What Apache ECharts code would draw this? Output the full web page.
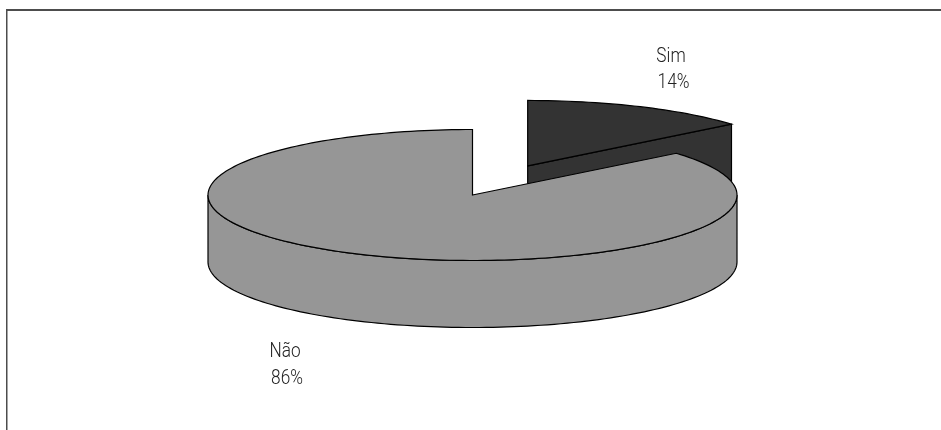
<!DOCTYPE html>
<html>
<head>
<meta charset="utf-8">
<style>html,body{margin:0;padding:0;background:#fff}#chart{width:941px;height:430px}</style>
<script src="https://cdn.jsdelivr.net/npm/echarts@6/dist/echarts.min.js"></script>
</head>
<body>
<div id="chart"></div>
<script>
// Answers to the survey question, in percent
const categories = ['Sim', 'Não'];
const shares = [14, 86];
const sliceColors = ['#333333', '#969696'];
const explodedSlices = [0.49, 0];

// Projection of the tilted disc
const disc = { cx: 472.5, cy: 195, rx: 264.5, ry: 65.5, depth: 67 };
const labelSpots = [
  [{ x: 671, y: 57 }, { x: 673.5, y: 83 }],
  [{ x: 285, y: 352 }, { x: 287, y: 379 }]
];
const labelFont = { fontFamily: 'Roboto', fontSize: 21, squeeze: 0.82 };

const total = shares.reduce((a, b) => a + b, 0);
const rad = d => d * Math.PI / 180;

// Point on the rim, angles running clockwise from twelve o'clock
function rim(c, deg, drop) {
  return [c.x + disc.rx * Math.sin(rad(deg)), c.y - disc.ry * Math.cos(rad(deg)) + (drop || 0)];
}
function arc(c, from, to, drop) {
  const pts = [];
  const steps = Math.max(2, Math.ceil(Math.abs(to - from) / 1.5));
  for (let i = 0; i <= steps; i++) pts.push(rim(c, from + (to - from) * i / steps, drop));
  return pts;
}

function renderSlice(params) {
  const i = params.dataIndex;
  const before = shares.slice(0, i).reduce((a, b) => a + b, 0);
  const start = before / total * 360;
  const end = (before + shares[i]) / total * 360;
  const mid = (start + end) / 2;
  const c = {
    x: disc.cx + explodedSlices[i] * disc.rx * Math.sin(rad(mid)),
    y: disc.cy - explodedSlices[i] * disc.ry * Math.cos(rad(mid))
  };
  const style = { fill: sliceColors[i], stroke: '#000', lineWidth: 1.2 };
  const children = [];
  const apex = [c.x, c.y];

  // Cut face of a slice that ends before three o'clock turns towards the viewer
  if (end < 90) {
    const p = rim(c, end);
    children.push({
      type: 'polygon',
      shape: { points: [apex, p, [p[0], p[1] + disc.depth], [apex[0], apex[1] + disc.depth]] },
      style
    });
  }

  // Outer wall along the front half of the rim
  const wallFrom = Math.max(start, 90);
  const wallTo = Math.min(end, 270);
  if (wallFrom < wallTo) {
    children.push({
      type: 'polygon',
      shape: { points: arc(c, wallFrom, wallTo).concat(arc(c, wallTo, wallFrom, disc.depth)) },
      style
    });
  }

  // Top surface
  children.push({
    type: 'polygon',
    shape: { points: [apex].concat(arc(c, start, end)) },
    style
  });

  // Name and percentage
  [categories[i], Math.round(shares[i] / total * 100) + '%'].forEach((line, n) => {
    const spot = labelSpots[i][n];
    children.push({
      type: 'text',
      x: spot.x,
      y: spot.y,
      scaleX: labelFont.squeeze,
      style: {
        text: line,
        fill: '#222222',
        fontFamily: labelFont.fontFamily,
        fontSize: labelFont.fontSize,
        fontWeight: 300,
        align: 'center',
        verticalAlign: 'middle'
      }
    });
  });

  return { type: 'group', children };
}

const chart = echarts.init(document.getElementById('chart'), null, { renderer: 'canvas' });
chart.setOption({
  animation: false,
  backgroundColor: '#ffffff',
  graphic: [
    { type: 'rect', shape: { x: 6, y: 9, width: 935, height: 2 }, style: { fill: '#4d4d4d' } },
    { type: 'rect', shape: { x: 6, y: 9, width: 1.5, height: 421 }, style: { fill: '#4d4d4d' } }
  ],
  series: [{
    type: 'custom',
    coordinateSystem: 'none',
    silent: true,
    data: categories.map((name, i) => ({ name, value: shares[i] })),
    renderItem: renderSlice
  }]
});
</script>
</body>
</html>
